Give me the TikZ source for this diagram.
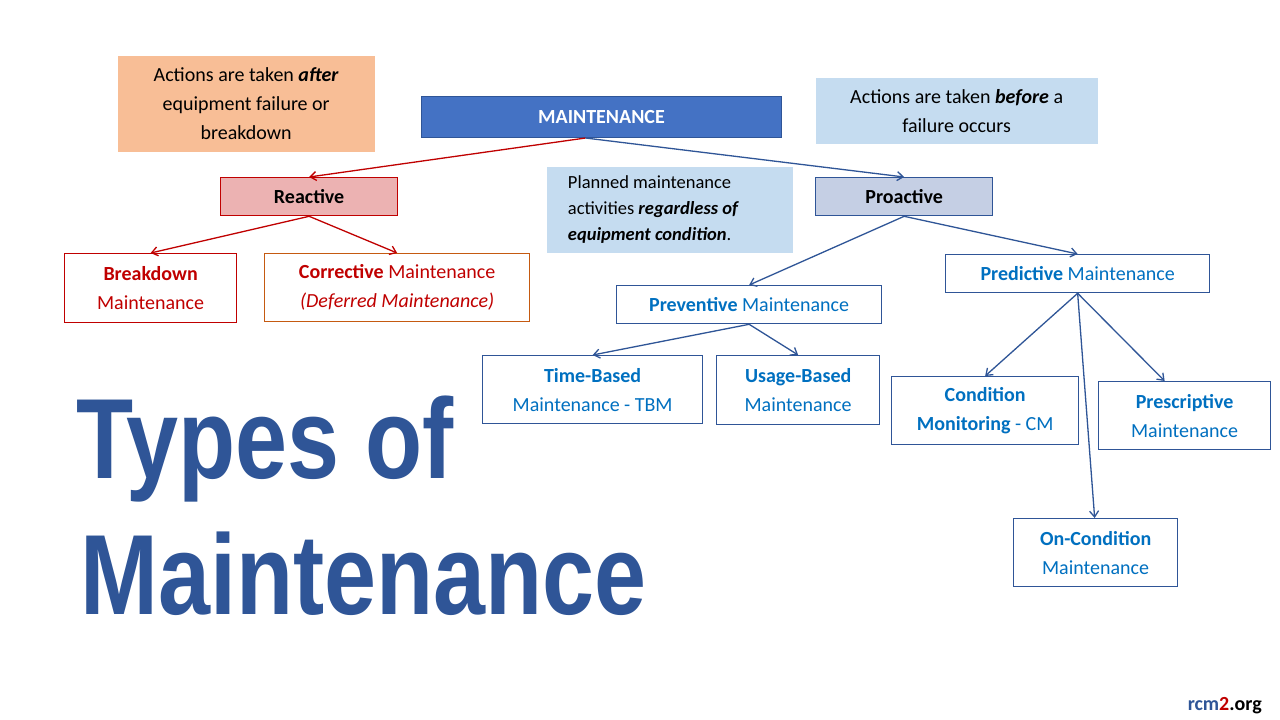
\documentclass[tikz,border=0pt]{standalone}
\usepackage{fontspec}
\setmainfont{Carlito}
\newfontfamily\titlefont{Liberation Sans}
\usetikzlibrary{arrows.meta}
\definecolor{dblue}{HTML}{2F5597}
\definecolor{mblue}{HTML}{0070C0}
\definecolor{dred}{HTML}{C00000}
\definecolor{lblue}{HTML}{C5DCF0}
\definecolor{orangef}{HTML}{F8BE96}
\begin{document}
\begin{tikzpicture}[x=1pt,y=-1pt,
  box/.style={draw,line width=1.3pt,inner sep=0pt,anchor=north west,align=center,font=\fontsize{20}{29}\selectfont},
  bl/.style={box,draw=dblue,text=mblue},
  arr/.style={line width=1.3pt,-{Straight Barb[length=6pt,width=9pt]}},
  ba/.style={arr,draw=dblue},
  ra/.style={arr,draw=dred}]
\useasboundingbox (0,0) rectangle (1280,720);
\fill[white] (0,0) rectangle (1280,720);
\node[box,draw=none,fill=orangef,minimum width=257pt,minimum height=96pt] (after) at (117,55) {Actions are taken \textbf{\textit{after}}\\equipment failure or\\breakdown};
\node[box,draw=dblue,line width=1pt,fill=blue!50!cyan!60!black!0,fill={rgb,255:red,68;green,114;blue,196},text=white,minimum width=360pt,minimum height=41pt] (m) at (421,96) {\textbf{MAINTENANCE}};
\node[box,draw=none,fill=lblue,minimum width=282pt,minimum height=66pt] (before) at (815,77) {Actions are taken \textbf{\textit{before}} a\\failure occurs};
\node[box,draw=dred,fill={rgb,255:red,236;green,178;blue,178},minimum width=177pt,minimum height=38pt] (re) at (220,177) {\textbf{Reactive}};
\node[box,draw=none,fill=lblue,minimum width=246pt,minimum height=86pt,align=left,font=\fontsize{18.5}{26}\selectfont] (plan) at (546,166) {Planned maintenance\\activities \textbf{\textit{regardless of}}\\\textbf{\textit{equipment condition}}.\phantom{xxxxx}};
\node[box,draw=dblue,fill={rgb,255:red,197;green,207;blue,228},minimum width=177pt,minimum height=38pt] (pro) at (815,177) {\textbf{Proactive}};
\node[box,draw=dred,text=dred,minimum width=172pt,minimum height=69pt] (bd) at (64,253) {\textbf{Breakdown}\\Maintenance};
\node[box,draw={rgb,255:red,197;green,90;blue,17},text=dred,minimum width=265pt,minimum height=68pt] (co) at (264,253) {\textbf{Corrective} Maintenance\\\textit{(Deferred Maintenance)}};
\node[bl,minimum width=265pt,minimum height=38pt] (pv) at (616,285) {\textbf{Preventive} Maintenance};
\node[bl,minimum width=264pt,minimum height=38pt] (pd) at (945,254) {\textbf{Predictive} Maintenance};
\node[bl,minimum width=220pt,minimum height=68pt] (tb) at (482,355) {\textbf{Time-Based}\\Maintenance - TBM};
\node[bl,minimum width=163pt,minimum height=69pt] (ub) at (716,355) {\textbf{Usage-Based}\\Maintenance};
\node[bl,minimum width=187pt,minimum height=68pt] (cm) at (891,376) {\textbf{Condition}\\\textbf{Monitoring} - CM};
\node[bl,minimum width=172pt,minimum height=68pt] (ps) at (1098,381) {\textbf{Prescriptive}\\Maintenance};
\node[bl,minimum width=164pt,minimum height=68pt] (oc) at (1013,518) {\textbf{On-Condition}\\Maintenance};
\draw[ra] (m.south) ++(-16,0) coordinate (ms1) -- (re.north);
\draw[ba] (ms1) -- (pro.north);
\draw[ra] (re.south) -- (bd.north);
\draw[ra] (re.south) -- (co.north);
\draw[ba] (pro.south) -- (pv.north);
\draw[ba] (pro.south) -- (pd.north);
\draw[ba] (pv.south) -- (tb.north);
\draw[ba] (pv.south) -- (ub.north);
\draw[ba] (pd.south) -- (cm.north);
\draw[ba] (pd.south) -- ([xshift=-20pt]ps.north);
\draw[ba] (pd.south) -- ([xshift=-1pt]oc.north);
\node[anchor=base west,inner sep=0pt,text=dblue,font=\titlefont\bfseries\fontsize{114}{120}\selectfont] (t1) at (76,478) {\scalebox{0.82}[1]{Types of}};
\node[anchor=base west,inner sep=0pt,text=dblue,font=\titlefont\bfseries\fontsize{114}{120}\selectfont] (t2) at (80,614) {\scalebox{0.82}[1]{Maintenance}};
\node[anchor=base east,inner sep=0pt,font=\bfseries\fontsize{20}{24}\selectfont] (org) at (1262,710) {\textcolor{dblue}{rcm}\textcolor{dred}{2}.org};
\end{tikzpicture}
\end{document}
